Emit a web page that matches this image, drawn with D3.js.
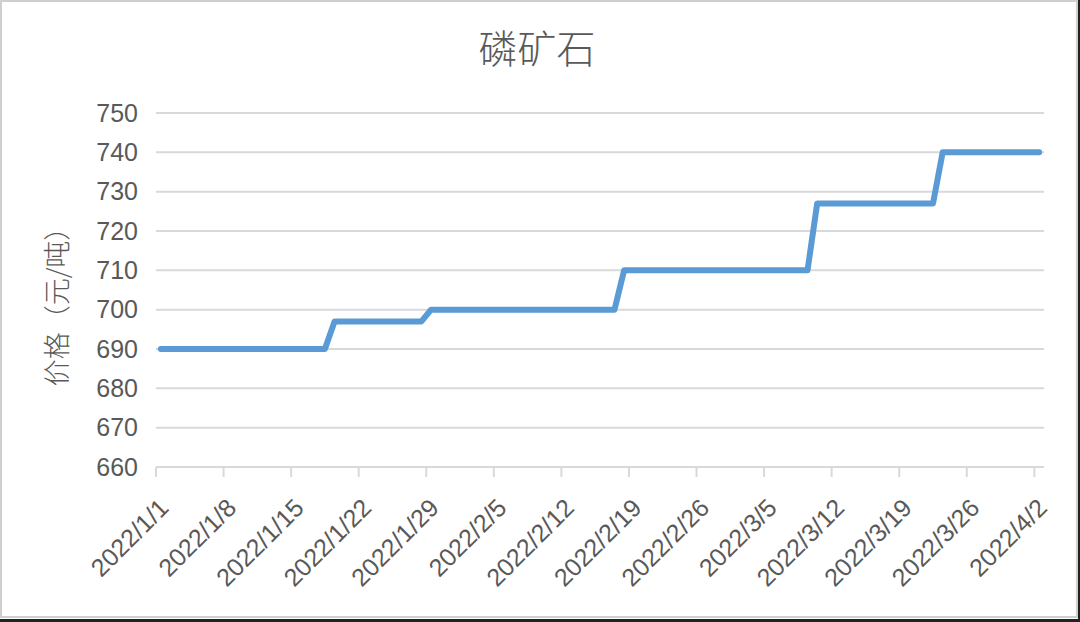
<!DOCTYPE html>
<html>
<head>
<meta charset="utf-8">
<script src="https://cdn.jsdelivr.net/npm/d3@7"></script>
<style>
  html, body { margin: 0; padding: 0; background: #fff; }
  svg { display: block; }
</style>
</head>
<body>
<svg id="chart" width="1080" height="622"></svg>
<script>
// ---- data ----
const title = "磷矿石";
const yTitle = "价格（元/吨）";
const startDate = "2022-01-01";
const endDate = "2022-04-02";
const prices = [
  690,690,690,690,690,690,690,690,690,690,690,690,690,690,690,690,690,690,
  697,697,697,697,697,697,697,697,697,697,
  700,700,700,700,700,700,700,700,700,700,700,700,700,700,700,700,700,700,700,700,
  710,710,710,710,710,710,710,710,710,710,710,710,710,710,710,710,710,710,710,710,
  727,727,727,727,727,727,727,727,727,727,727,727,727,
  740,740,740,740,740,740,740,740,740,740,740
];
const xTickLabels = ["2022/1/1","2022/1/8","2022/1/15","2022/1/22","2022/1/29","2022/2/5",
  "2022/2/12","2022/2/19","2022/2/26","2022/3/5","2022/3/12","2022/3/19","2022/3/26","2022/4/2"];
const yTicks = [660,670,680,690,700,710,720,730,740,750];

(function () {
// ---- layout ----
const svg = d3.select("#chart");
const W = 1080, H = 622;
const mLeft = 156, mRight = 1044, mTop = 113, mBottom = 467;
const textColor = "#595959";
const gridColor = "#d9d9d9";

const parse = d3.timeParse("%Y-%m-%d");
const dates = d3.timeDay.range(parse(startDate), d3.timeDay.offset(parse(endDate), 1));
const data = dates.map((d, i) => ({ date: d, value: prices[i], i }));

const x = d3.scaleBand().domain(data.map(d => d.i)).range([mLeft, mRight]).padding(0);
const y = d3.scaleLinear().domain([660, 750]).range([mBottom, mTop]);

// frame
svg.append("rect").attr("x", 0).attr("y", 0).attr("width", W).attr("height", H).attr("fill", "#fff");
svg.append("rect").attr("x", 1).attr("y", 1).attr("width", 1076).attr("height", 616)
  .attr("fill", "none").attr("stroke", "#cfcfcf").attr("stroke-width", 2);
svg.append("rect").attr("x", 0).attr("y", 619).attr("width", W).attr("height", 3).attr("fill", "#222");
svg.append("rect").attr("x", 1078).attr("y", 0).attr("width", 2).attr("height", H).attr("fill", "#222");

// title
svg.append("text").attr("x", 537).attr("y", 63).attr("text-anchor", "middle")
  .attr("font-family", "'Noto Sans CJK SC'").attr("font-weight", 300)
  .attr("font-size", 39).attr("fill", textColor).text(title);

// gridlines
svg.append("g").selectAll("line").data(yTicks.filter(v => v > 660)).join("line")
  .attr("x1", mLeft).attr("x2", mRight)
  .attr("y1", d => y(d)).attr("y2", d => y(d))
  .attr("stroke", gridColor).attr("stroke-width", 2);

// y axis labels
const yAxis = d3.axisLeft(y).tickValues(yTicks).tickSize(0).tickPadding(18);
const yg = svg.append("g").attr("transform", `translate(${mLeft},0)`).call(yAxis);
yg.select(".domain").remove();
yg.selectAll("text").attr("font-family", "'Liberation Sans', Arial, sans-serif")
  .attr("font-size", 25).attr("fill", textColor);

// x axis
const tickIdx = data.filter(d => d.i % 7 === 0).map(d => d.i);
const xg = svg.append("g").attr("transform", `translate(0,${mBottom})`);
xg.append("line").attr("x1", mLeft).attr("x2", mRight).attr("y1", 0).attr("y2", 0)
  .attr("stroke", gridColor).attr("stroke-width", 2);
xg.selectAll("line.tick").data(tickIdx).join("line").attr("class", "tick")
  .attr("x1", d => x(d)).attr("x2", d => x(d)).attr("y1", 0).attr("y2", 10)
  .attr("stroke", gridColor).attr("stroke-width", 2);
xg.selectAll("text").data(tickIdx).join("text")
  .attr("transform", (d) => `translate(${x(d) + x.bandwidth() / 2 + 3},${36}) rotate(-45)`)
  .attr("text-anchor", "end").attr("dominant-baseline", "central")
  .attr("font-family", "'Liberation Sans', Arial, sans-serif")
  .attr("font-size", 25).attr("fill", textColor)
  .text((d, k) => xTickLabels[k]);

// y title
svg.append("text").attr("transform", `translate(67,300) rotate(-90)`)
  .attr("text-anchor", "middle").attr("font-family", "'Noto Sans CJK SC'").attr("font-weight", 300)
  .attr("font-size", 27).attr("fill", textColor).text(yTitle);

// line
const line = d3.line().x(d => x(d.i) + x.bandwidth() / 2).y(d => y(d.value));
svg.append("path").datum(data).attr("d", line)
  .attr("fill", "none").attr("stroke", "#5b9bd5").attr("stroke-width", 6)
  .attr("stroke-linecap", "round").attr("stroke-linejoin", "round");
})();
</script>
</body>
</html>
